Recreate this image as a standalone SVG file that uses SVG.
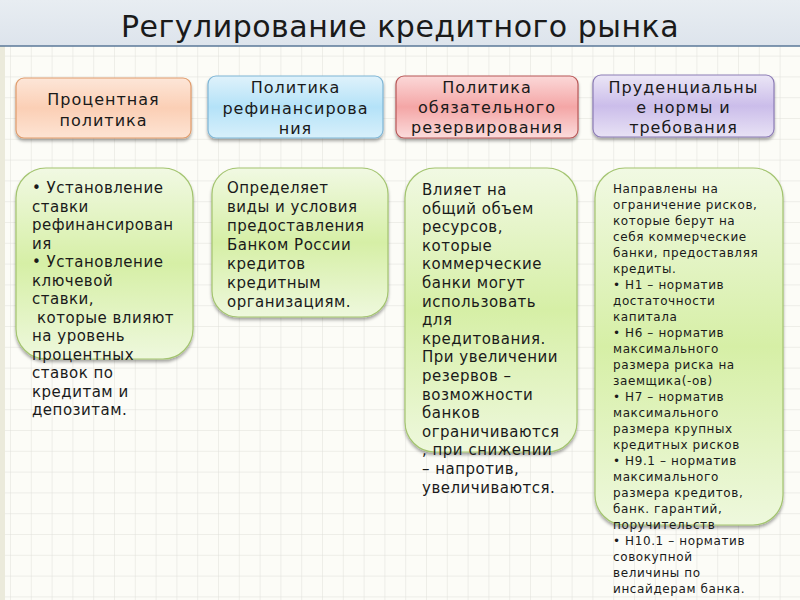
<svg xmlns="http://www.w3.org/2000/svg" width="800" height="600" viewBox="0 0 800 600">
<defs>
<style>
.t{font-family:"DejaVu Sans","Liberation Sans",sans-serif;fill:#1a1a1a}
.title{font-size:30px;letter-spacing:0.5px}
.hd{font-size:16px;letter-spacing:1px;text-anchor:middle}
.bd{font-size:15px;letter-spacing:0.5px}
.sm{font-size:12px;letter-spacing:0.6px}
.green{fill:url(#gGreen);stroke:#a3c46f;stroke-width:1.2}
</style>
<pattern id="grid" x="10" y="14" width="20.8" height="20.8" patternUnits="userSpaceOnUse">
<path d="M0 0H20.8M0 0V20.8" fill="none" stroke="#e0e0da" stroke-width="1"/>
</pattern>
<linearGradient id="gTitle" x1="0" y1="0" x2="0" y2="1">
<stop offset="0" stop-color="#e8edf2"/><stop offset="1" stop-color="#dde4ec"/>
</linearGradient>
<linearGradient id="gGreen" x1="0" y1="0" x2="0" y2="1">
<stop offset="0" stop-color="#f1f9e3"/><stop offset="0.5" stop-color="#d6efa6"/><stop offset="1" stop-color="#eef8dd"/>
</linearGradient>
<linearGradient id="gOrange" x1="0" y1="0" x2="0" y2="1">
<stop offset="0" stop-color="#fde6d8"/><stop offset="0.5" stop-color="#fbcfb5"/><stop offset="1" stop-color="#fde4d4"/>
</linearGradient>
<linearGradient id="gBlue" x1="0" y1="0" x2="0" y2="1">
<stop offset="0" stop-color="#dff2fb"/><stop offset="0.5" stop-color="#b4e2f8"/><stop offset="1" stop-color="#d8f0fb"/>
</linearGradient>
<linearGradient id="gRed" x1="0" y1="0" x2="0" y2="1">
<stop offset="0" stop-color="#fbd8d8"/><stop offset="0.5" stop-color="#f4a6a6"/><stop offset="1" stop-color="#fbdcdc"/>
</linearGradient>
<linearGradient id="gPurple" x1="0" y1="0" x2="0" y2="1">
<stop offset="0" stop-color="#ebe6f6"/><stop offset="0.5" stop-color="#cbbdea"/><stop offset="1" stop-color="#e8e2f5"/>
</linearGradient>
<filter id="sh" x="-10%" y="-10%" width="120%" height="130%">
<feDropShadow dx="0" dy="2.5" stdDeviation="1.5" flood-color="#000" flood-opacity="0.35"/>
</filter>
</defs>

<g id="background">
<rect x="0" y="0" width="800" height="600" fill="#fcfcf7"/>
<rect x="0" y="46" width="800" height="554" fill="url(#grid)"/>
<rect x="0" y="46" width="5" height="554" fill="#ebeadb"/>
<rect x="0" y="0" width="800" height="46" fill="url(#gTitle)"/>
<line x1="0" y1="46" x2="800" y2="46" stroke="#5a7898" stroke-width="1.5"/>
</g>

<g id="title">
<text class="t title" x="400" y="37" text-anchor="middle">Регулирование кредитного рынка</text>
</g>

<g id="connectors"/>

<g id="h1">
<rect x="16" y="78" width="175" height="60" rx="8" fill="url(#gOrange)" stroke="#e09c6c" stroke-width="1.2" filter="url(#sh)"/>
<text class="t hd" x="103.5" y="105">Процентная</text>
<text class="t hd" x="103.5" y="126">политика</text>
</g>

<g id="h2">
<rect x="208" y="76" width="175" height="62" rx="8" fill="url(#gBlue)" stroke="#7fb6d6" stroke-width="1.2" filter="url(#sh)"/>
<text class="t hd" x="295.5" y="93">Политика</text>
<text class="t hd" x="295.5" y="114">рефинансирова</text>
<text class="t hd" x="295.5" y="134">ния</text>
</g>

<g id="h3">
<rect x="396" y="76" width="182" height="62" rx="8" fill="url(#gRed)" stroke="#b85858" stroke-width="1.2" filter="url(#sh)"/>
<text class="t hd" x="487" y="93">Политика</text>
<text class="t hd" x="487" y="113">обязательного</text>
<text class="t hd" x="487" y="133">резервирования</text>
</g>

<g id="h4">
<rect x="593" y="75" width="181" height="62" rx="8" fill="url(#gPurple)" stroke="#8c7cb6" stroke-width="1.2" filter="url(#sh)"/>
<text class="t hd" x="683.5" y="93">Пруденциальны</text>
<text class="t hd" x="683.5" y="113">е нормы и</text>
<text class="t hd" x="683.5" y="133">требования</text>
</g>

<g id="b1">
<rect class="green" x="16" y="168" width="177" height="191" rx="30" filter="url(#sh)"/>
<text class="t bd">
<tspan x="32" y="193">• Установление</tspan>
<tspan x="32" y="211.5">ставки</tspan>
<tspan x="32" y="230">рефинансирован</tspan>
<tspan x="32" y="248.5">ия</tspan>
<tspan x="32" y="267">• Установление</tspan>
<tspan x="32" y="285.5">ключевой</tspan>
<tspan x="32" y="304">ставки,</tspan>
<tspan x="37" y="322.5">которые влияют</tspan>
<tspan x="32" y="341">на уровень</tspan>
<tspan x="32" y="359.5">процентных</tspan>
<tspan x="32" y="378">ставок по</tspan>
<tspan x="32" y="396.5">кредитам и</tspan>
<tspan x="32" y="415">депозитам.</tspan>
</text>
</g>

<g id="b2">
<rect class="green" x="212" y="168" width="176" height="149" rx="26" filter="url(#sh)"/>
<text class="t bd">
<tspan x="227" y="193">Определяет</tspan>
<tspan x="227" y="212">виды и условия</tspan>
<tspan x="227" y="231">предоставления</tspan>
<tspan x="227" y="250">Банком России</tspan>
<tspan x="227" y="269">кредитов</tspan>
<tspan x="227" y="288">кредитным</tspan>
<tspan x="227" y="307">организациям.</tspan>
</text>
</g>

<g id="b3">
<rect class="green" x="405" y="168" width="172" height="284" rx="30" filter="url(#sh)"/>
<text class="t bd">
<tspan x="422" y="195">Влияет на</tspan>
<tspan x="422" y="213.6">общий объем</tspan>
<tspan x="422" y="232.2">ресурсов,</tspan>
<tspan x="422" y="250.8">которые</tspan>
<tspan x="422" y="269.4">коммерческие</tspan>
<tspan x="422" y="288">банки могут</tspan>
<tspan x="422" y="306.6">использовать</tspan>
<tspan x="422" y="325.2">для</tspan>
<tspan x="422" y="343.8">кредитования.</tspan>
<tspan x="422" y="362.4">При увеличении</tspan>
<tspan x="422" y="381">резервов –</tspan>
<tspan x="422" y="399.6">возможности</tspan>
<tspan x="422" y="418.2">банков</tspan>
<tspan x="422" y="436.8">ограничиваются</tspan>
<tspan x="422" y="455.4">, при снижении</tspan>
<tspan x="422" y="474">– напротив,</tspan>
<tspan x="422" y="492.6">увеличиваются.</tspan>
</text>
</g>

<g id="b4">
<rect class="green" x="595" y="168" width="188" height="357" rx="30" filter="url(#sh)"/>
<text class="t sm">
<tspan x="613" y="193">Направлены на</tspan>
<tspan x="613" y="209">ограничение рисков,</tspan>
<tspan x="613" y="225">которые берут на</tspan>
<tspan x="613" y="241">себя коммерческие</tspan>
<tspan x="613" y="257">банки, предоставляя</tspan>
<tspan x="613" y="273">кредиты.</tspan>
<tspan x="613" y="289">• Н1 – норматив</tspan>
<tspan x="613" y="305">достаточности</tspan>
<tspan x="613" y="321">капитала</tspan>
<tspan x="613" y="337">• Н6 – норматив</tspan>
<tspan x="613" y="353">максимального</tspan>
<tspan x="613" y="369">размера риска на</tspan>
<tspan x="613" y="385">заемщика(-ов)</tspan>
<tspan x="613" y="401">•  Н7 – норматив</tspan>
<tspan x="613" y="417">максимального</tspan>
<tspan x="613" y="433">размера крупных</tspan>
<tspan x="613" y="449">кредитных рисков</tspan>
<tspan x="613" y="465">• Н9.1 – норматив</tspan>
<tspan x="613" y="481">максимального</tspan>
<tspan x="613" y="497">размера кредитов,</tspan>
<tspan x="613" y="513">банк. гарантий,</tspan>
<tspan x="613" y="529">поручительств</tspan>
<tspan x="613" y="545">• Н10.1 – норматив</tspan>
<tspan x="613" y="561">совокупной</tspan>
<tspan x="613" y="577">величины по</tspan>
<tspan x="613" y="593">инсайдерам банка.</tspan>
</text>
</g>
</svg>
